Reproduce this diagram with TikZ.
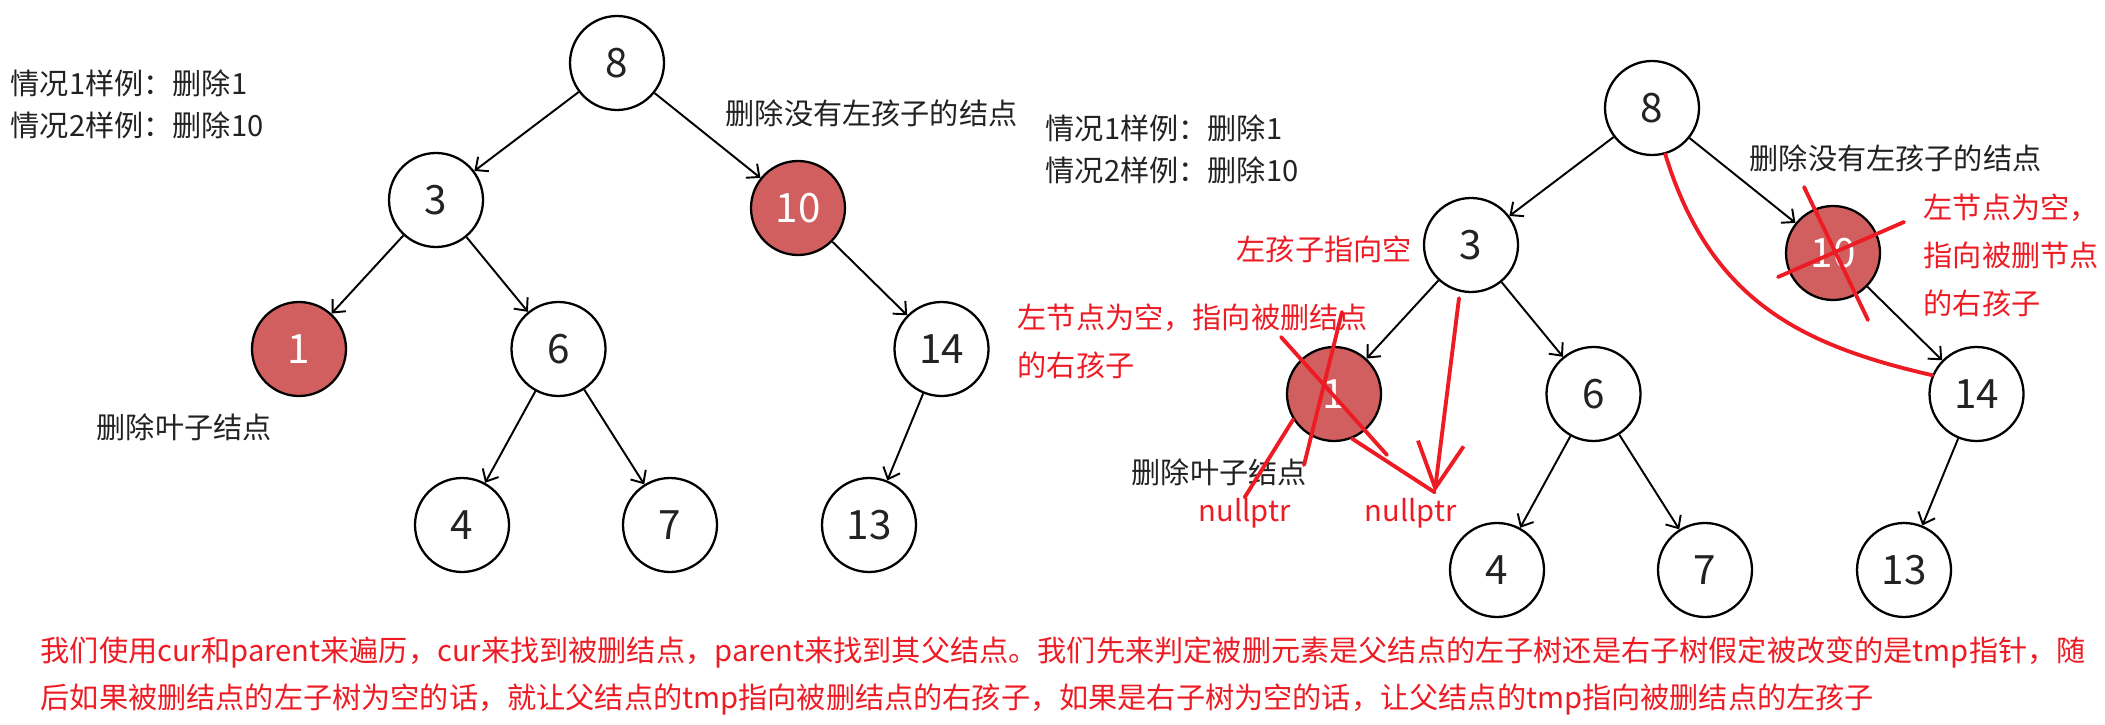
\documentclass[tikz,border=0pt]{standalone}
\usepackage{fontspec}
\setmainfont{Noto Sans CJK SC}
\usepackage{tikz}
\usetikzlibrary{arrows.meta,positioning}
\definecolor{delred}{HTML}{D25F5F}
\definecolor{penred}{HTML}{ED1C24}
\definecolor{ink}{HTML}{222222}

\begin{document}
\begin{tikzpicture}[
    x=1cm, y=-1cm,
    key/.style={draw, circle, line width=0.65pt, minimum size=0.94cm, inner sep=0pt, font=\fontsize{11.5}{12}\selectfont, text=ink},
    gone/.style={key, fill=delred, text=white},
    link/.style={-{Straight Barb[length=1mm, width=1.8mm]}, line width=0.55pt},
    remark/.style={font=\fontsize{8.3}{11.8}\selectfont, text=ink, inner sep=0pt, anchor=west, align=left},
    rednote/.style={remark, text=penred, font=\fontsize{8.3}{13.6}\selectfont},
    strike/.style={penred, line width=1.1pt, line cap=round},
  ]
  \useasboundingbox (0,0) rectangle (21.05,7.25);

  % the same tree twice, the right copy carries the notes
  \foreach \t/\dx/\dy/\lx in {a/0/0/7.25, b/10.35/0.45/7.14} {
    \begin{scope}[shift={(\dx,\dy)}]
      \node[key]  (\t8)  at (6.17,0.63)  {8};
      \node[key]  (\t3)  at (4.36,2.00)  {3};
      \node[gone] (\t10) at (7.98,2.08)  {10};
      \node[gone] (\t1)  at (2.99,3.49)  {1};
      \node[key]  (\t6)  at (5.585,3.49) {6};
      \node[key]  (\t14) at (9.415,3.49) {14};
      \node[key]  (\t4)  at (4.62,5.25)  {4};
      \node[key]  (\t7)  at (6.70,5.25)  {7};
      \node[key]  (\t13) at (8.69,5.25)  {13};
      \foreach \p/\c in {8/3, 8/10, 3/1, 3/6, 10/14, 6/4, 6/7, 14/13}
        \draw[link] (\t\p) -- (\t\c);
      \node[remark] (\t-cases) at (0.10,1.045) {情况1样例：删除1\\情况2样例：删除10};
      \node[remark] (\t-noleft) at (\lx,1.13) {删除没有左孩子的结点};
      \node[remark] (\t-leaf) at (0.96,4.27) {删除叶子结点};
    \end{scope}
  }

  % notes on the right tree
  \node[rednote] (leftnull) at (12.36,2.49) {左孩子指向空};
  \node[rednote] (onenote) at (10.17,3.41) {左节点为空，指向被删结点\\的右孩子};
  \node[rednote] (tennote) at (19.23,2.555) {左节点为空，\\指向被删节点\\的右孩子};
  \node[rednote] (null1) at (11.98,5.13) {nullptr};
  \node[rednote] (null2) at (13.64,5.13) {nullptr};
  \coordinate (null2tip) at ([xshift=2.4mm, yshift=0.5mm]null2.north);

  \begin{scope}[shift={(b1)}]
    \draw[strike] (-0.53,-0.57) -- (0.53,0.61);
    \draw[strike] (0.08,-0.82) -- (-0.30,0.71);
  \end{scope}
  \begin{scope}[shift={(b10)}]
    \draw[strike] (-0.29,-0.66) -- (0.35,0.67);
    \draw[strike] (-0.55,0.24) -- (0.71,-0.31);
  \end{scope}
  \draw[strike] (b1.212) -- (null1.north);
  \draw[strike] (b1.292) -- (null2tip);
  \draw[strike, -{Straight Barb[length=4.5mm, width=4.6mm]}] ([xshift=-1.2mm, yshift=-0.5mm]b3.south) -- (null2tip);
  \draw[strike] (b8.286) .. controls (17.10,3.00) and (18.00,3.45) .. (b14.157);

  \node[rednote] (summary) at (0.40,6.76) {我们使用cur和parent来遍历，cur来找到被删结点，parent来找到其父结点。我们先来判定被删元素是父结点的左子树还是右子树假定被改变的是tmp指针，随\\后如果被删结点的左子树为空的话，就让父结点的tmp指向被删结点的右孩子，如果是右子树为空的话，让父结点的tmp指向被删结点的左孩子};
\end{tikzpicture}
\end{document}
